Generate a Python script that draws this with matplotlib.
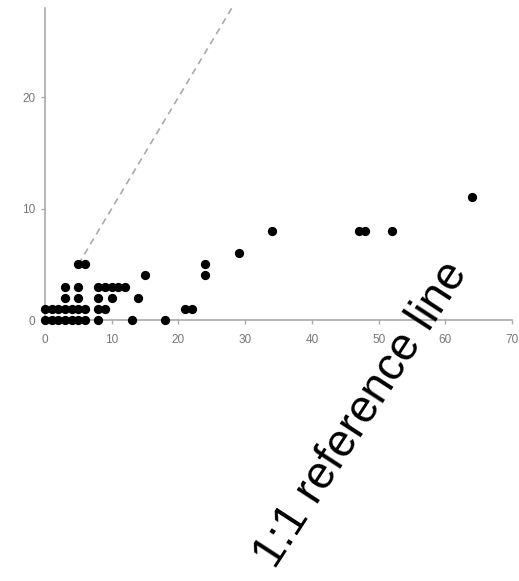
import matplotlib
matplotlib.use("Agg")
import matplotlib.pyplot as plt
import numpy as np

plt.rcParams['font.family'] = ['Liberation Sans', 'DejaVu Sans']

# observed points (x, y)
x_vals = [0, 1, 2, 3, 4, 5, 6,
          0, 1, 2, 3, 4, 5, 6,
          3, 5, 3, 5, 5, 6,
          8, 8, 9, 8, 10, 8, 9, 10, 11,
          12, 13, 14, 15, 18,
          21, 22, 24, 24, 29, 34, 47, 48, 52, 64]
y_vals = [0, 0, 0, 0, 0, 0, 0,
          1, 1, 1, 1, 1, 1, 1,
          2, 2, 3, 3, 5, 5,
          0, 1, 1, 2, 2, 3, 3, 3, 3,
          3, 0, 2, 4, 0,
          1, 1, 4, 5, 6, 8, 8, 8, 8, 11]

ref_line = [5, 28]
x_ticks = [0, 10, 20, 30, 40, 50, 60, 70]
y_ticks = [0, 10, 20]

fig = plt.figure(figsize=(5.19, 5.81), dpi=100)
ax = fig.add_axes([0.0867, 0.4492, 0.9, 0.537])

ax.plot(ref_line, ref_line, color='#aaaaaa', linestyle=(0, (4, 3)), linewidth=1.2)
ax.scatter(x_vals, y_vals, s=32, color='black', zorder=3, clip_on=False)

ax.set_xlim(0, 70)
ax.set_ylim(0, 28)
ax.set_xticks(x_ticks)
ax.set_yticks(y_ticks)

for s in ['top', 'right']:
    ax.spines[s].set_visible(False)
for s in ['left', 'bottom']:
    ax.spines[s].set_color('#aaaaaa')
    ax.spines[s].set_linewidth(1.2)

ax.tick_params(colors='#aaaaaa', labelcolor='#777777', labelsize=8.5, length=3, width=1)
ax.tick_params(axis='x', pad=7)
ax.tick_params(axis='y', pad=4)

fig.text(0.697, 0.286, '1:1 reference line', fontsize=33, rotation=57,
         ha='center', va='center', rotation_mode='anchor', color='black')

fig.savefig('out.png', dpi=100)
